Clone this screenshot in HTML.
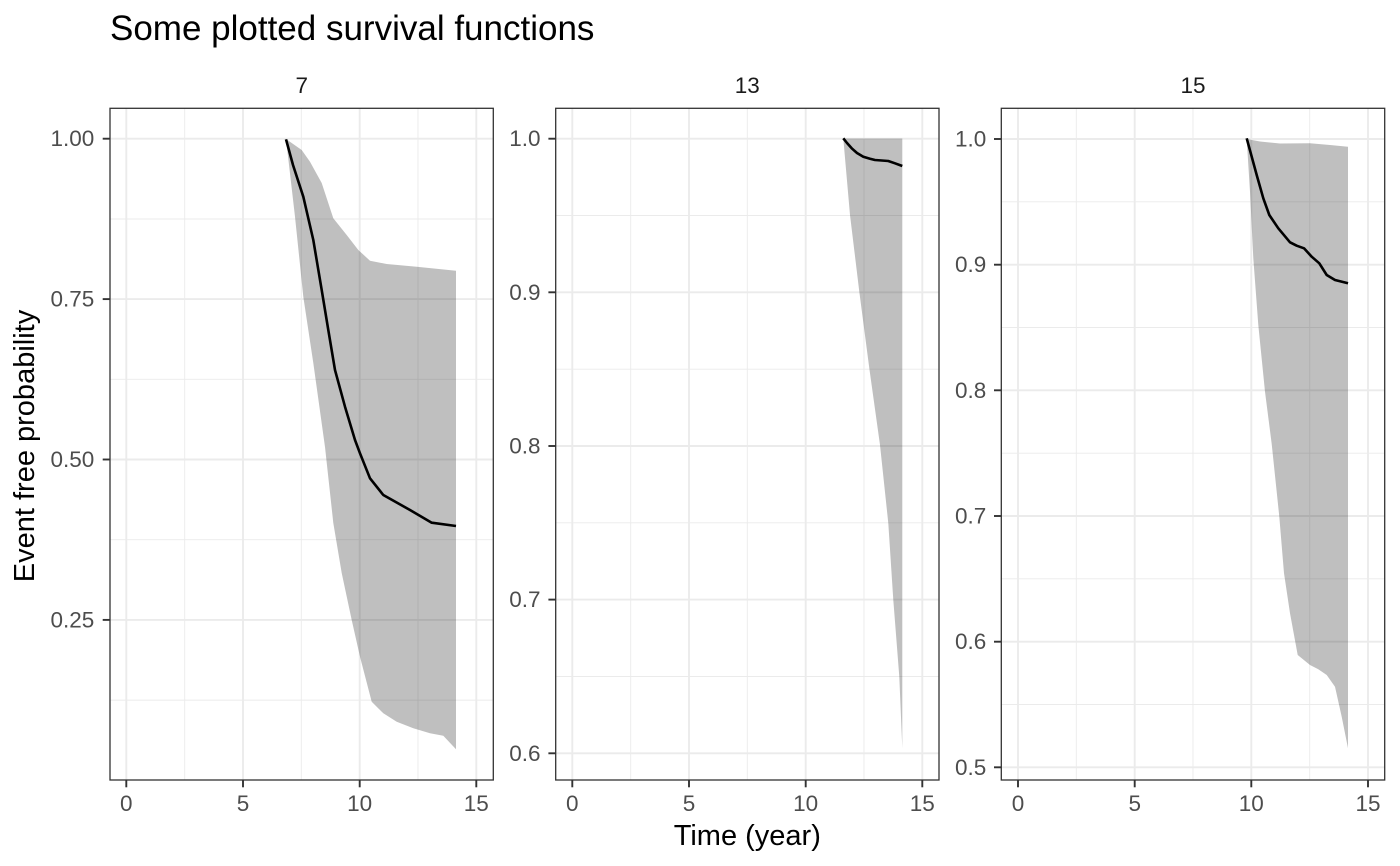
<!DOCTYPE html>
<html>
<head>
<meta charset="utf-8">
<style>
html,body{margin:0;padding:0;background:#fff;}
svg{display:block;font-family:"Liberation Sans",Arial,sans-serif;}
.gmaj{stroke:#EBEBEB;stroke-width:1.9;fill:none;}
.gmin{stroke:#EBEBEB;stroke-width:0.95;fill:none;}
.band{fill:rgba(0,0,0,0.25);stroke:none;}
.ln{fill:none;stroke:#000;stroke-width:2.6;stroke-linejoin:round;stroke-linecap:butt;}
.bord{fill:none;stroke:#333;stroke-width:1.3;}
.tk{stroke:#333;stroke-width:1.9;}
.yt{font-size:22.5px;fill:#4D4D4D;text-anchor:end;dominant-baseline:central;}
.xt{font-size:22.5px;fill:#4D4D4D;text-anchor:middle;}
.st{font-size:22.5px;fill:#1A1A1A;text-anchor:middle;}
</style>
</head>
<body>
<svg width="1400" height="866" viewBox="0 0 1400 866" xmlns="http://www.w3.org/2000/svg">
<rect width="1400" height="866" fill="#fff"/>
<defs>
<clipPath id="c1"><rect x="110" y="108.3" width="383.3" height="671.7"/></clipPath>
<clipPath id="c2"><rect x="555.7" y="108.3" width="383.3" height="671.7"/></clipPath>
<clipPath id="c3"><rect x="1001.3" y="108.3" width="383.4" height="671.7"/></clipPath>
</defs>

<!-- Title -->
<text x="110" y="40" font-size="35" fill="#000">Some plotted survival functions</text>

<!-- Panel 1 -->
<g clip-path="url(#c1)">
<line class="gmin" x1="110" x2="493.3" y1="219" y2="219"/>
<line class="gmin" x1="110" x2="493.3" y1="379.3" y2="379.3"/>
<line class="gmin" x1="110" x2="493.3" y1="539.7" y2="539.7"/>
<line class="gmin" x1="110" x2="493.3" y1="700.1" y2="700.1"/>
<line class="gmin" x1="184.7" x2="184.7" y1="108" y2="780"/>
<line class="gmin" x1="301.3" x2="301.3" y1="108" y2="780"/>
<line class="gmin" x1="418" x2="418" y1="108" y2="780"/>
<line class="gmaj" x1="110" x2="493.3" y1="138.7" y2="138.7"/>
<line class="gmaj" x1="110" x2="493.3" y1="299.1" y2="299.1"/>
<line class="gmaj" x1="110" x2="493.3" y1="459.5" y2="459.5"/>
<line class="gmaj" x1="110" x2="493.3" y1="619.9" y2="619.9"/>
<line class="gmaj" x1="126.3" x2="126.3" y1="108" y2="780"/>
<line class="gmaj" x1="243" x2="243" y1="108" y2="780"/>
<line class="gmaj" x1="359.7" x2="359.7" y1="108" y2="780"/>
<line class="gmaj" x1="476.3" x2="476.3" y1="108" y2="780"/>
<polygon class="band" points="286,139 301.7,150 310,161.7 321.7,183 333.3,218.3 346.7,235 358.3,250 370,260.7 386.7,264 416.7,266.7 456,270.7 456,749.3 443.3,735.7 430,733.3 413.3,728.3 396.7,721.7 383.3,713.3 371.7,701.7 360,656.7 351.7,620 341.7,573 333.3,523 325,447 313.3,363 303.3,296.7 295,216.7 286,139"/>
<polyline class="ln" points="286,139.3 293,165 303.3,196.7 313.3,240 321.7,290 328.3,330 335,370 345,406.7 355,440 360,453.3 370,478.3 383.3,495 410,510 431.7,522.7 456,526"/>
</g>
<rect class="bord" x="110" y="108.3" width="383.3" height="671.7"/>
<line class="tk" x1="102.7" x2="110" y1="138.7" y2="138.7"/>
<line class="tk" x1="102.7" x2="110" y1="299.1" y2="299.1"/>
<line class="tk" x1="102.7" x2="110" y1="459.5" y2="459.5"/>
<line class="tk" x1="102.7" x2="110" y1="619.9" y2="619.9"/>
<text class="yt" x="94.3" y="138.7">1.00</text>
<text class="yt" x="94.3" y="299.1">0.75</text>
<text class="yt" x="94.3" y="459.5">0.50</text>
<text class="yt" x="94.3" y="619.9">0.25</text>
<line class="tk" x1="126.3" x2="126.3" y1="780" y2="787.3"/>
<line class="tk" x1="243" x2="243" y1="780" y2="787.3"/>
<line class="tk" x1="359.7" x2="359.7" y1="780" y2="787.3"/>
<line class="tk" x1="476.3" x2="476.3" y1="780" y2="787.3"/>
<text class="xt" x="126.3" y="811">0</text>
<text class="xt" x="243" y="811">5</text>
<text class="xt" x="359.7" y="811">10</text>
<text class="xt" x="476.3" y="811">15</text>
<text class="st" x="301.7" y="93">7</text>

<!-- Panel 2 -->
<g clip-path="url(#c2)">
<line class="gmin" x1="555.7" x2="939" y1="215.5" y2="215.5"/>
<line class="gmin" x1="555.7" x2="939" y1="369.2" y2="369.2"/>
<line class="gmin" x1="555.7" x2="939" y1="522.8" y2="522.8"/>
<line class="gmin" x1="555.7" x2="939" y1="676.5" y2="676.5"/>
<line class="gmin" x1="630.7" x2="630.7" y1="108" y2="780"/>
<line class="gmin" x1="747.3" x2="747.3" y1="108" y2="780"/>
<line class="gmin" x1="864" x2="864" y1="108" y2="780"/>
<line class="gmaj" x1="555.7" x2="939" y1="138.7" y2="138.7"/>
<line class="gmaj" x1="555.7" x2="939" y1="292.3" y2="292.3"/>
<line class="gmaj" x1="555.7" x2="939" y1="446" y2="446"/>
<line class="gmaj" x1="555.7" x2="939" y1="599.6" y2="599.6"/>
<line class="gmaj" x1="555.7" x2="939" y1="753.3" y2="753.3"/>
<line class="gmaj" x1="572.3" x2="572.3" y1="108" y2="780"/>
<line class="gmaj" x1="689" x2="689" y1="108" y2="780"/>
<line class="gmaj" x1="805.7" x2="805.7" y1="108" y2="780"/>
<line class="gmaj" x1="922.3" x2="922.3" y1="108" y2="780"/>
<polygon class="band" points="843.3,138.5 902.3,138.5 902.3,748.3 899.3,676.7 893.3,600 888.3,523.3 880,445 869.3,368.3 859.3,291.7 850,215 843.3,138.5"/>
<polyline class="ln" points="843.3,138.3 847,143 851.7,148.3 857,153 863.3,156.7 870,158.7 875,160 888.3,161 895,163.3 902.3,166"/>
</g>
<rect class="bord" x="555.7" y="108.3" width="383.3" height="671.7"/>
<line class="tk" x1="548.4" x2="555.7" y1="138.7" y2="138.7"/>
<line class="tk" x1="548.4" x2="555.7" y1="292.3" y2="292.3"/>
<line class="tk" x1="548.4" x2="555.7" y1="446" y2="446"/>
<line class="tk" x1="548.4" x2="555.7" y1="599.6" y2="599.6"/>
<line class="tk" x1="548.4" x2="555.7" y1="753.3" y2="753.3"/>
<text class="yt" x="540.5" y="138.7">1.0</text>
<text class="yt" x="540.5" y="292.3">0.9</text>
<text class="yt" x="540.5" y="446">0.8</text>
<text class="yt" x="540.5" y="599.6">0.7</text>
<text class="yt" x="540.5" y="753.3">0.6</text>
<line class="tk" x1="572.3" x2="572.3" y1="780" y2="787.3"/>
<line class="tk" x1="689" x2="689" y1="780" y2="787.3"/>
<line class="tk" x1="805.7" x2="805.7" y1="780" y2="787.3"/>
<line class="tk" x1="922.3" x2="922.3" y1="780" y2="787.3"/>
<text class="xt" x="572.3" y="811">0</text>
<text class="xt" x="689" y="811">5</text>
<text class="xt" x="805.7" y="811">10</text>
<text class="xt" x="922.3" y="811">15</text>
<text class="st" x="747.3" y="93">13</text>

<!-- Panel 3 -->
<g clip-path="url(#c3)">
<line class="gmin" x1="1001.3" x2="1384.7" y1="201.8" y2="201.8"/>
<line class="gmin" x1="1001.3" x2="1384.7" y1="327.5" y2="327.5"/>
<line class="gmin" x1="1001.3" x2="1384.7" y1="453.2" y2="453.2"/>
<line class="gmin" x1="1001.3" x2="1384.7" y1="578.8" y2="578.8"/>
<line class="gmin" x1="1001.3" x2="1384.7" y1="704.5" y2="704.5"/>
<line class="gmin" x1="1076.3" x2="1076.3" y1="108" y2="780"/>
<line class="gmin" x1="1193" x2="1193" y1="108" y2="780"/>
<line class="gmin" x1="1309.7" x2="1309.7" y1="108" y2="780"/>
<line class="gmaj" x1="1001.3" x2="1384.7" y1="139" y2="139"/>
<line class="gmaj" x1="1001.3" x2="1384.7" y1="264.7" y2="264.7"/>
<line class="gmaj" x1="1001.3" x2="1384.7" y1="390.3" y2="390.3"/>
<line class="gmaj" x1="1001.3" x2="1384.7" y1="516" y2="516"/>
<line class="gmaj" x1="1001.3" x2="1384.7" y1="641.7" y2="641.7"/>
<line class="gmaj" x1="1001.3" x2="1384.7" y1="767.3" y2="767.3"/>
<line class="gmaj" x1="1018" x2="1018" y1="108" y2="780"/>
<line class="gmaj" x1="1134.7" x2="1134.7" y1="108" y2="780"/>
<line class="gmaj" x1="1251.3" x2="1251.3" y1="108" y2="780"/>
<line class="gmaj" x1="1368" x2="1368" y1="108" y2="780"/>
<polygon class="band" points="1246.7,139 1260,141.5 1280,143.5 1310,143.3 1330,145 1348,146.7 1348,748.3 1341.7,716.7 1335,686.7 1326.7,675 1318.3,669.3 1310,665 1297.7,655 1290,613.3 1284,573.3 1279.3,516.7 1271.7,444 1265,391.7 1258.3,325 1253.3,258.3 1250,191.7 1246.7,139"/>
<polyline class="ln" points="1246.7,138.3 1256.7,175 1263.3,198.3 1269.3,215 1278.3,228.3 1290,242.3 1296.7,245.7 1304,248.3 1311.7,256.7 1319.3,263.3 1326.7,275 1335,280 1348,283.3"/>
</g>
<rect class="bord" x="1001.3" y="108.3" width="383.4" height="671.7"/>
<line class="tk" x1="994" x2="1001.3" y1="139" y2="139"/>
<line class="tk" x1="994" x2="1001.3" y1="264.7" y2="264.7"/>
<line class="tk" x1="994" x2="1001.3" y1="390.3" y2="390.3"/>
<line class="tk" x1="994" x2="1001.3" y1="516" y2="516"/>
<line class="tk" x1="994" x2="1001.3" y1="641.7" y2="641.7"/>
<line class="tk" x1="994" x2="1001.3" y1="767.3" y2="767.3"/>
<text class="yt" x="986.3" y="139">1.0</text>
<text class="yt" x="986.3" y="264.7">0.9</text>
<text class="yt" x="986.3" y="390.3">0.8</text>
<text class="yt" x="986.3" y="516">0.7</text>
<text class="yt" x="986.3" y="641.7">0.6</text>
<text class="yt" x="986.3" y="767.3">0.5</text>
<line class="tk" x1="1018" x2="1018" y1="780" y2="787.3"/>
<line class="tk" x1="1134.7" x2="1134.7" y1="780" y2="787.3"/>
<line class="tk" x1="1251.3" x2="1251.3" y1="780" y2="787.3"/>
<line class="tk" x1="1368" x2="1368" y1="780" y2="787.3"/>
<text class="xt" x="1018" y="811">0</text>
<text class="xt" x="1134.7" y="811">5</text>
<text class="xt" x="1251.3" y="811">10</text>
<text class="xt" x="1368" y="811">15</text>
<text class="st" x="1193" y="93">15</text>

<!-- Axis titles -->
<text x="747.3" y="845" font-size="29" fill="#000" text-anchor="middle">Time (year)</text>
<text transform="translate(34,446) rotate(-90)" font-size="29" fill="#000" text-anchor="middle">Event free probability</text>
</svg>
</body>
</html>
